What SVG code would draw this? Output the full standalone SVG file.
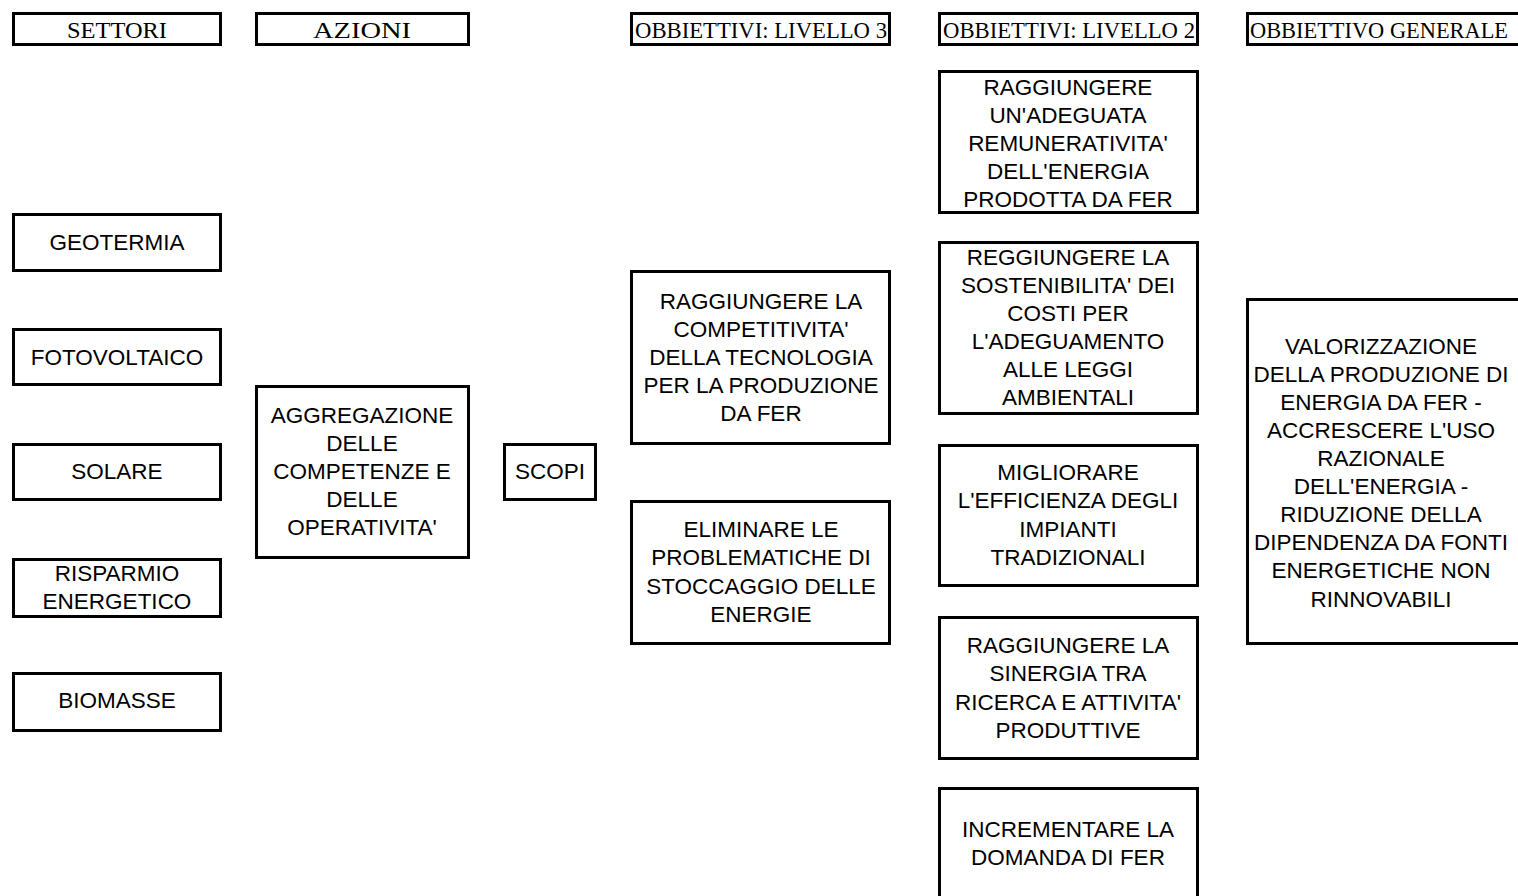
<svg xmlns="http://www.w3.org/2000/svg" width="1518" height="896" viewBox="0 0 1518 896">
<style>
.b{fill:#fff;stroke:#000;stroke-width:3}
.h{font-family:"Liberation Serif","Times New Roman",serif;font-size:24px;fill:#000;text-anchor:middle}
.t{font-family:"Liberation Sans",Arial,sans-serif;font-size:22.5px;fill:#000;text-anchor:middle}
</style>
<rect width="1518" height="896" fill="#fff"/>
<g id="connectors"></g>
<g id="h-settori"><rect class="b" x="13.5" y="13.5" width="207" height="31"/><text class="h" x="117" y="37.5" textLength="100" lengthAdjust="spacingAndGlyphs">SETTORI</text></g>
<g id="h-azioni"><rect class="b" x="256.5" y="13.5" width="212" height="31"/><text class="h" x="362" y="37.5" textLength="98" lengthAdjust="spacingAndGlyphs">AZIONI</text></g>
<g id="h-l3"><rect class="b" x="631.5" y="13.5" width="258" height="31"/><text class="h" x="761" y="37.5" textLength="252" lengthAdjust="spacingAndGlyphs">OBBIETTIVI: LIVELLO 3</text></g>
<g id="h-l2"><rect class="b" x="939.5" y="13.5" width="258" height="31"/><text class="h" x="1069" y="37.5" textLength="252" lengthAdjust="spacingAndGlyphs">OBBIETTIVI: LIVELLO 2</text></g>
<g id="h-gen"><rect class="b" x="1247.5" y="13.5" width="280" height="31"/><text class="h" x="1379" y="37.5" textLength="258" lengthAdjust="spacingAndGlyphs">OBBIETTIVO GENERALE</text></g>

<g id="geotermia"><rect class="b" x="13.5" y="214.5" width="207" height="56"/><text class="t" x="117" y="250">GEOTERMIA</text></g>
<g id="fotovoltaico"><rect class="b" x="13.5" y="329.5" width="207" height="55"/><text class="t" x="117" y="365">FOTOVOLTAICO</text></g>
<g id="solare"><rect class="b" x="13.5" y="444.5" width="207" height="55"/><text class="t" x="117" y="479">SOLARE</text></g>
<g id="risparmio"><rect class="b" x="13.5" y="559.5" width="207" height="57"/><text class="t" x="117" y="581">RISPARMIO</text><text class="t" x="117" y="609">ENERGETICO</text></g>
<g id="biomasse"><rect class="b" x="13.5" y="673.5" width="207" height="57"/><text class="t" x="117" y="708">BIOMASSE</text></g>

<g id="aggregazione"><rect class="b" x="256.5" y="386.5" width="212" height="171"/>
<text class="t" x="362" y="423">AGGREGAZIONE</text><text class="t" x="362" y="451">DELLE</text><text class="t" x="362" y="479">COMPETENZE E</text><text class="t" x="362" y="507">DELLE</text><text class="t" x="362" y="535">OPERATIVITA'</text></g>

<g id="scopi"><rect class="b" x="504.5" y="444.5" width="91" height="55"/><text class="t" x="550" y="479">SCOPI</text></g>

<g id="l3-competitivita"><rect class="b" x="631.5" y="271.5" width="258" height="172"/>
<text class="t" x="761" y="309">RAGGIUNGERE LA</text><text class="t" x="761" y="337">COMPETITIVITA'</text><text class="t" x="761" y="365">DELLA TECNOLOGIA</text><text class="t" x="761" y="393">PER LA PRODUZIONE</text><text class="t" x="761" y="421">DA FER</text></g>

<g id="l3-stoccaggio"><rect class="b" x="631.5" y="501.5" width="258" height="142"/>
<text class="t" x="761" y="537">ELIMINARE LE</text><text class="t" x="761" y="565">PROBLEMATICHE DI</text><text class="t" x="761" y="594">STOCCAGGIO DELLE</text><text class="t" x="761" y="622">ENERGIE</text></g>

<g id="l2-remunerativita"><rect class="b" x="939.5" y="71.5" width="258" height="141"/>
<text class="t" x="1068" y="95">RAGGIUNGERE</text><text class="t" x="1068" y="123">UN'ADEGUATA</text><text class="t" x="1068" y="151">REMUNERATIVITA'</text><text class="t" x="1068" y="179">DELL'ENERGIA</text><text class="t" x="1068" y="207">PRODOTTA DA FER</text></g>

<g id="l2-sostenibilita"><rect class="b" x="939.5" y="242.5" width="258" height="171"/>
<text class="t" x="1068" y="265">REGGIUNGERE LA</text><text class="t" x="1068" y="293">SOSTENIBILITA' DEI</text><text class="t" x="1068" y="321">COSTI PER</text><text class="t" x="1068" y="349">L'ADEGUAMENTO</text><text class="t" x="1068" y="377">ALLE LEGGI</text><text class="t" x="1068" y="405">AMBIENTALI</text></g>

<g id="l2-efficienza"><rect class="b" x="939.5" y="445.5" width="258" height="140"/>
<text class="t" x="1068" y="480">MIGLIORARE</text><text class="t" x="1068" y="508">L'EFFICIENZA DEGLI</text><text class="t" x="1068" y="537">IMPIANTI</text><text class="t" x="1068" y="565">TRADIZIONALI</text></g>

<g id="l2-sinergia"><rect class="b" x="939.5" y="617.5" width="258" height="141"/>
<text class="t" x="1068" y="653">RAGGIUNGERE LA</text><text class="t" x="1068" y="681">SINERGIA TRA</text><text class="t" x="1068" y="710">RICERCA E ATTIVITA'</text><text class="t" x="1068" y="738">PRODUTTIVE</text></g>

<g id="l2-domanda"><rect class="b" x="939.5" y="788.5" width="258" height="120"/>
<text class="t" x="1068" y="837">INCREMENTARE LA</text><text class="t" x="1068" y="865">DOMANDA DI FER</text></g>

<g id="generale"><rect class="b" x="1247.5" y="299.5" width="280" height="344"/>
<text class="t" x="1381" y="354">VALORIZZAZIONE</text><text class="t" x="1381" y="382">DELLA PRODUZIONE DI</text><text class="t" x="1381" y="410">ENERGIA DA FER -</text><text class="t" x="1381" y="438">ACCRESCERE L'USO</text><text class="t" x="1381" y="466">RAZIONALE</text><text class="t" x="1381" y="494">DELL'ENERGIA -</text><text class="t" x="1381" y="522">RIDUZIONE DELLA</text><text class="t" x="1381" y="550">DIPENDENZA DA FONTI</text><text class="t" x="1381" y="578">ENERGETICHE NON</text><text class="t" x="1381" y="607">RINNOVABILI</text></g>
</svg>
